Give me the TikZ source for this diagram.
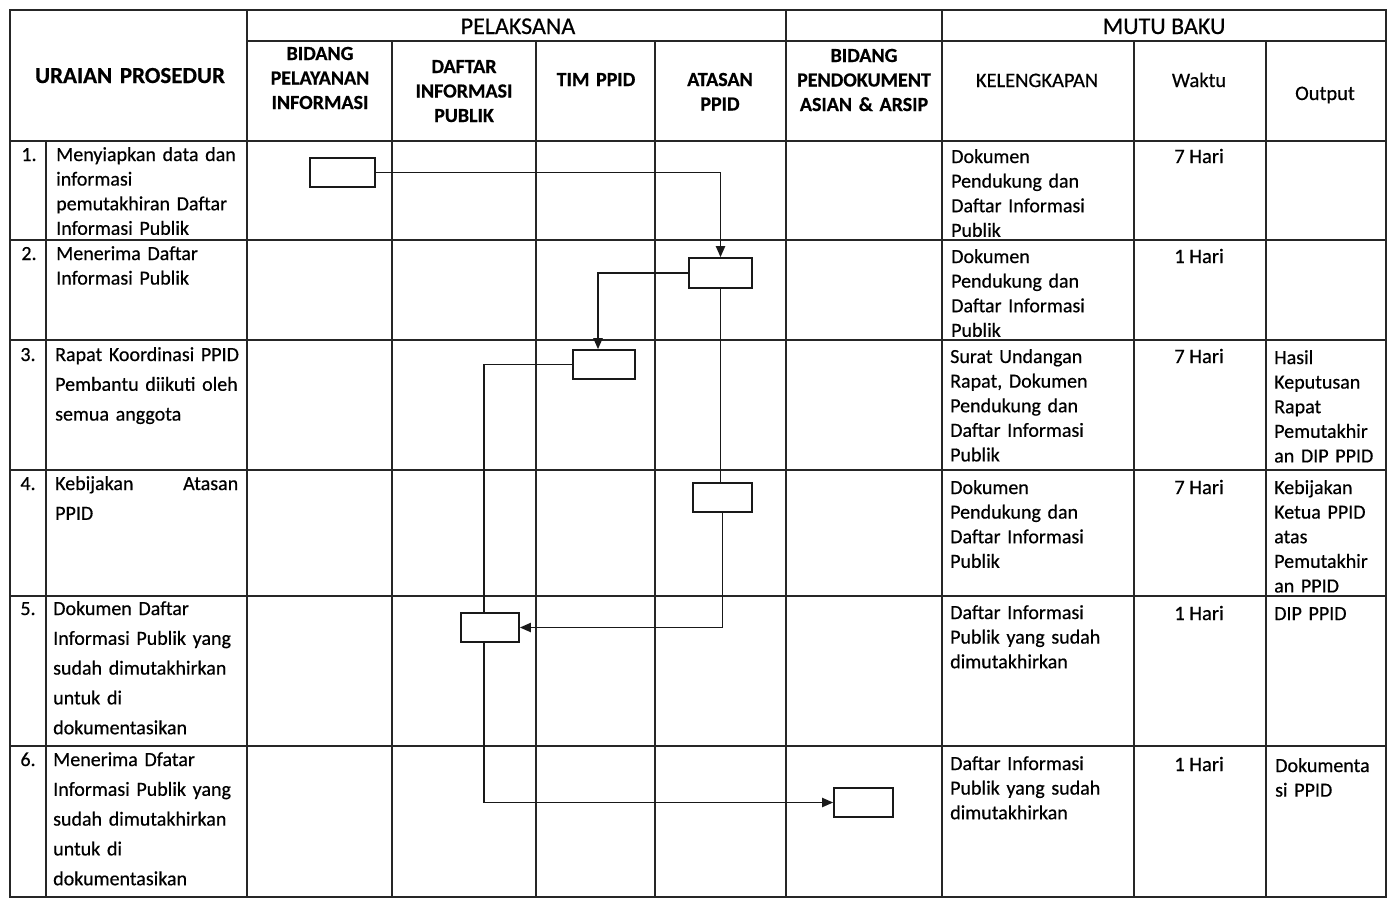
\documentclass[tikz,border=0pt]{standalone}
\usepackage{fontspec}
\setmainfont{Carlito}[UprightFeatures={FakeBold=0.5},BoldFeatures={FakeBold=0.6}]
\usetikzlibrary{arrows.meta}
\begin{document}
\begin{tikzpicture}[x=1pt,y=-1pt,
  grid/.style={line width=1.5pt, black!85},
  flowbox/.style={draw, line width=1.6pt, inner sep=0pt, black!90},
  conn/.style={line width=1.9pt, black!90},
  arr/.style={conn, -{Triangle[length=11pt,width=9pt]}},
  body/.style={font=\fontsize{20}{24.6}\selectfont, inner sep=0pt, anchor=base west, align=left, text width=#1},
  body/.default=200pt,
  bodyw/.style={body=#1, font=\fontsize{20}{29.8}\selectfont},
  bodyw/.default=200pt,
  num/.style={font=\fontsize{20}{24}\selectfont, inner sep=0pt, anchor=base},
  head/.style={font=\fontsize{20}{24.5}\selectfont\bfseries, inner sep=0pt, anchor=base, align=center, text width=#1},
  head/.default=150pt,
  headr/.style={font=\fontsize{20.5}{24.5}\selectfont, inner sep=0pt, anchor=base},
  headbig/.style={font=\fontsize{24}{28}\selectfont, inner sep=0pt, anchor=base},
]
\useasboundingbox (0,0) rectangle (1396,902);
% ---------- grid ----------
\draw[grid] (10,10) rectangle (1386,897);
\draw[grid] (247,41) -- (1386,41);
\foreach \yy in {141,240,340,470,596,746} \draw[grid] (10,\yy) -- (1386,\yy);
\draw[grid] (46,141) -- (46,897);
\foreach \xx in {247,786,942} \draw[grid] (\xx,10) -- (\xx,897);
\foreach \xx in {392,536,655,1134,1266} \draw[grid] (\xx,41) -- (\xx,897);
% ---------- header ----------
\node[headbig] (hpel) at (518,34) {PELAKSANA};
\node[headbig] (hmutu) at (1164,34) {MUTU BAKU};
\node[head=230pt, font=\fontsize{23}{26}\selectfont\bfseries] (hur) at (130,83) {URAIAN PROSEDUR};
\node[head] (hbpi) at (320,60) {BIDANG\\PELAYANAN\\INFORMASI};
\node[head] (hdip) at (464,73) {DAFTAR\\INFORMASI\\PUBLIK};
\node[head] (htim) at (596,86) {TIM PPID};
\node[head] (hat) at (720,86) {ATASAN\\PPID};
\node[head] (hbpa) at (864,62) {BIDANG\\PENDOKUMENT\\ASIAN \& ARSIP};
\node[headr] (hkel) at (1037,87) {KELENGKAPAN};
\node[headr] (hwak) at (1199,87) {Waktu};
\node[headr] (hout) at (1325,100) {Output};
% ---------- numbers ----------
\node[num] (n1) at (29,161) {1.};
\node[num] (n2) at (29,260) {2.};
\node[num] (n3) at (28,361) {3.};
\node[num] (n4) at (28,490) {4.};
\node[num] (n5) at (28,615) {5.};
\node[num] (n6) at (28,766) {6.};
% ---------- procedure texts ----------
\node[body] (u1) at (56,161) {Menyiapkan data dan\\informasi\\pemutakhiran Daftar\\Informasi Publik};
\node[body] (u2) at (56,260) {Menerima Daftar\\Informasi Publik};
\node[bodyw] (u3) at (55,361) {Rapat Koordinasi PPID\\Pembantu diikuti oleh\\semua anggota};
\node[bodyw=183pt] (u4) at (55,490) {Kebijakan\hfill Atasan\\PPID};
\node[bodyw] (u5) at (53,615) {Dokumen Daftar\\Informasi Publik yang\\sudah dimutakhirkan\\untuk di\\dokumentasikan};
\node[bodyw] (u6) at (53,766) {Menerima Dfatar\\Informasi Publik yang\\sudah dimutakhirkan\\untuk di\\dokumentasikan};
% ---------- kelengkapan ----------
\node[body=180pt] (k1) at (951,163) {Dokumen\\Pendukung dan\\Daftar Informasi\\Publik};
\node[body=180pt] (k2) at (951,263) {Dokumen\\Pendukung dan\\Daftar Informasi\\Publik};
\node[body=180pt] (k3) at (950,363) {Surat Undangan\\Rapat, Dokumen\\Pendukung dan\\Daftar Informasi\\Publik};
\node[body=180pt] (k4) at (950,494) {Dokumen\\Pendukung dan\\Daftar Informasi\\Publik};
\node[body=180pt] (k5) at (950,619) {Daftar Informasi\\Publik yang sudah\\dimutakhirkan};
\node[body=180pt] (k6) at (950,770) {Daftar Informasi\\Publik yang sudah\\dimutakhirkan};
% ---------- waktu ----------
\node[headr] (w1) at (1199,163) {7 Hari};
\node[headr] (w2) at (1199,263) {1 Hari};
\node[headr] (w3) at (1199,363) {7 Hari};
\node[headr] (w4) at (1199,494) {7 Hari};
\node[headr] (w5) at (1199,620) {1 Hari};
\node[headr] (w6) at (1199,771) {1 Hari};
% ---------- output ----------
\node[body=112pt] (o3) at (1274,364) {Hasil\\Keputusan\\Rapat\\Pemutakhir\\an DIP PPID};
\node[body=112pt] (o4) at (1274,494) {Kebijakan\\Ketua PPID\\atas\\Pemutakhir\\an PPID};
\node[body=112pt] (o5) at (1274,620) {DIP PPID};
\node[body=112pt] (o6) at (1275,772) {Dokumenta\\si PPID};
% ---------- flow boxes ----------
\node[flowbox, minimum width=65pt, minimum height=29pt] (b1) at (342.5,172.5) {};
\node[flowbox, minimum width=63pt, minimum height=30pt] (b2) at (720.5,273) {};
\node[flowbox, minimum width=62pt, minimum height=29pt] (b3) at (604,364.5) {};
\node[flowbox, minimum width=59pt, minimum height=29pt] (b4) at (722.5,497.5) {};
\node[flowbox, minimum width=58pt, minimum height=29pt] (b5) at (490,627.5) {};
\node[flowbox, minimum width=59pt, minimum height=29pt] (b6) at (863.5,802.5) {};
% ---------- connectors ----------
\draw[arr] (b1.east) -| (b2.north);
\draw[arr] (b2.west) -| ([xshift=-6pt]b3.north);
\draw[conn] (b3.west) -| ([xshift=-6pt]b5.north);
\draw[conn] (b2.south) -- (b2.south |- b4.north);
\draw[arr] (b4.south) |- (b5.east);
\draw[arr] ([xshift=-6pt]b5.south) |- (b6.west);
\end{tikzpicture}
\end{document}
